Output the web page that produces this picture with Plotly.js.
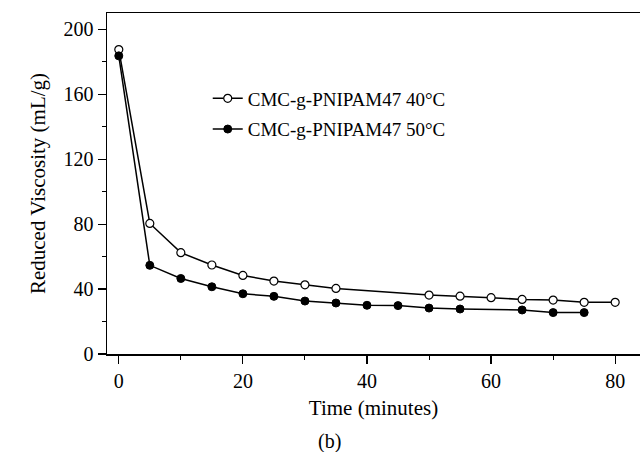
<!DOCTYPE html>
<html>
<head>
<meta charset="utf-8">
<script src="https://cdn.plot.ly/plotly-3.0.1.min.js"></script>
<style>html,body{margin:0;padding:0;background:#fff;}#chart{width:640px;height:452px;}</style>
</head>
<body>
<div id="chart"></div>
<script>
const time40 = [0, 5, 10, 15, 20, 25, 30, 35, 50, 55, 60, 65, 70, 75, 80];
const visc40 = [187.5, 80.4, 62.4, 54.8, 48.4, 44.9, 42.6, 40.4, 36.3, 35.6, 34.7, 33.6, 33.2, 31.8, 31.8];
const time50 = [0, 5, 10, 15, 20, 25, 30, 35, 40, 45, 50, 55, 65, 70, 75];
const visc50 = [183.6, 54.6, 46.5, 41.4, 37.1, 35.5, 32.6, 31.4, 30.0, 29.8, 28.3, 27.7, 27.1, 25.5, 25.5];
const seriesNames = ["CMC-g-PNIPAM47 40°C", "CMC-g-PNIPAM47 50°C"];
const xTitle = "Time (minutes)";
const yTitle = "Reduced Viscosity (mL/g)";
const panelLabel = "(b)";

const FONT = "Liberation Serif, Times New Roman, serif";

const traces = [
  {
    x: time40, y: visc40, name: seriesNames[0], legendgroup: "a", mode: "lines+markers", type: "scatter",
    line: {color: "#000", width: 1.5},
    marker: {symbol: "circle", size: 8, color: "#fff", line: {color: "#000", width: 1.2}}
  },
  {
    x: time50, y: visc50, name: seriesNames[1], legendgroup: "b", mode: "lines+markers", type: "scatter",
    line: {color: "#000", width: 1.5},
    marker: {symbol: "circle", size: 8, color: "#000", line: {color: "#000", width: 1}}
  }
];

const layout = {
  width: 640, height: 452,
  margin: {l: 107, r: 0, t: 13, b: 98},
  paper_bgcolor: "#fff", plot_bgcolor: "#fff",
  font: {family: FONT, color: "#000", size: 20},
  showlegend: true,
  legend: {
    x: 0.189, y: 0.805, xanchor: "left", yanchor: "top",
    bgcolor: "rgba(0,0,0,0)", borderwidth: 0,
    font: {family: FONT, size: 19, color: "#000"},
    traceorder: "grouped", tracegroupgap: 3
  },
  xaxis: {
    range: [-1.9, 84], showgrid: false, zeroline: false,
    showline: true, linecolor: "#000", linewidth: 1.5, mirror: true,
    ticks: "outside", ticklen: 8, tickwidth: 1.2, tickcolor: "#000",
    tick0: 0, dtick: 20,
    minor: {ticks: "outside", ticklen: 4, dtick: 10, tick0: 0, tickcolor: "#000", tickwidth: 1},
    tickfont: {family: FONT, size: 20},
    title: {text: xTitle, font: {family: FONT, size: 21}, standoff: 10}
  },
  yaxis: {
    range: [0, 210], showgrid: false, zeroline: false,
    showline: true, linecolor: "#000", linewidth: 1.5, mirror: false,
    ticks: "outside", ticklen: 8, tickwidth: 1.2, tickcolor: "#000",
    tick0: 0, dtick: 40,
    minor: {ticks: "outside", ticklen: 4, dtick: 20, tick0: 0, tickcolor: "#000", tickwidth: 1},
    tickfont: {family: FONT, size: 20},
    title: {text: yTitle, font: {family: FONT, size: 21}, standoff: 12}
  },
  annotations: [
    {text: panelLabel, xref: "paper", yref: "paper", x: 0.418, y: -0.258, xanchor: "center", yanchor: "middle",
     showarrow: false, font: {family: FONT, size: 20, color: "#000"}}
  ]
};

Plotly.newPlot("chart", traces, layout, {displayModeBar: false, staticPlot: true});
</script>
</body>
</html>
